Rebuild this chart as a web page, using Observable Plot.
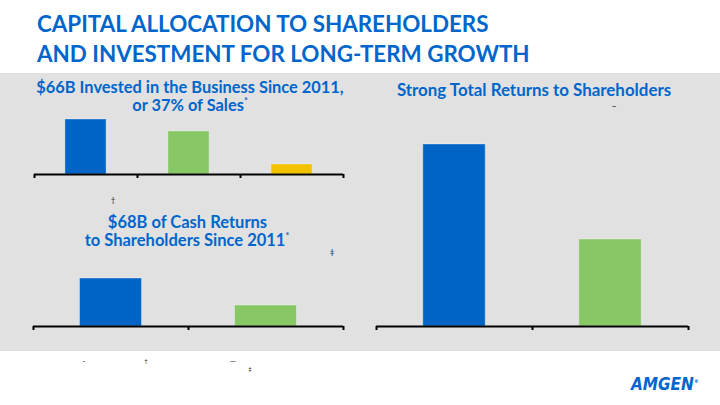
<!DOCTYPE html>
<html><head><meta charset="utf-8">
<script src="https://cdn.jsdelivr.net/npm/d3@7"></script>
<script src="https://cdn.jsdelivr.net/npm/@observablehq/plot@0.6"></script>
<style>
html,body{margin:0;padding:0;}
body{width:720px;height:405px;background:#fff;overflow:hidden;position:relative;font-family:Lato,"Open Sans",sans-serif;}
.abs{position:absolute;}
#panel{left:0;top:73px;width:720px;height:278px;background:#e1e1e1;}
#overlay{left:0;top:0;}
svg{overflow:visible;}
</style></head>
<body>
<div id="panel" class="abs"></div>
<div id="c1" class="abs" style="left:0;top:100px;"></div>
<div id="c2" class="abs" style="left:0;top:260px;"></div>
<div id="c3" class="abs" style="left:360px;top:130px;"></div>
<svg id="overlay" class="abs" width="720" height="405"></svg>
<script>
// ---- data ----
const investCategories = ["R&D", "Business Development", "Capital Expenditures"];
const investValues = [33.6, 26.3, 6.1];          // $B (total $66B)
const investColors = ["#0063c6", "#88c766", "#f2c200"];

const cashCategories = ["Share Repurchases", "Dividends"];
const cashValues = [47.3, 20.7];                  // $B, estimated (total $68B)
const cashColors = ["#0063c6", "#88c766"];

const tsrCategories = ["Amgen", "S&P 500"];
const tsrValues = [182, 87];                      // relative heights
const tsrColors = ["#0063c6", "#88c766"];

function barChart(cats, vals, colors, o) {
  const n = cats.length;
  const data = cats.map((c, i) => ({cat: c, i, v: vals[i]}));
  return Plot.plot({
    width: o.width, height: o.height,
    marginLeft: o.ml, marginRight: o.mr, marginTop: o.mt, marginBottom: o.mb,
    x: {domain: [0, n]},
    y: {domain: [0, o.ymax], axis: null},
    color: {domain: cats, range: colors},
    style: {background: "transparent", overflow: "visible"},
    marks: [
      Plot.rectY(data, {x1: d => d.i + 0.3, x2: d => d.i + 0.7, y1: 0, y2: "v", fill: "cat",
        stroke: "#ffffff", strokeOpacity: 0.35, strokeWidth: 1}),
      Plot.ruleY([0], {x1: 0, x2: n, stroke: "#000", strokeWidth: 2}),
      Plot.axisX({ticks: d3.range(n + 1), tickFormat: () => "", tickSize: 4, stroke: "#000", strokeWidth: 2})
    ]
  });
}

document.getElementById("c1").append(barChart(investCategories, investValues, investColors,
  {width: 360, height: 84, ml: 34, mr: 17, mt: 19, mb: 10, ymax: investValues[0]}));
document.getElementById("c2").append(barChart(cashCategories, cashValues, cashColors,
  {width: 360, height: 76, ml: 33, mr: 17, mt: 18, mb: 10, ymax: cashValues[0]}));
document.getElementById("c3").append(barChart(tsrCategories, tsrValues, tsrColors,
  {width: 360, height: 206, ml: 16, mr: 32, mt: 14, mb: 10, ymax: tsrValues[0]}));

// ---- text overlay ----
const blue = "#0066cc";
const svg = d3.select("#overlay");
function txt(x, y, s, size, opts = {}) {
  const t = svg.append("text").attr("x", x).attr("y", y)
    .attr("font-size", size).attr("font-weight", opts.weight || 700)
    .attr("fill", opts.fill || blue).attr("text-anchor", opts.anchor || "start")
    .attr("font-family", opts.family || "Lato, 'Open Sans', sans-serif");
  if (opts.style) t.attr("font-style", opts.style);
  t.append("tspan").text(s);
  if (opts.sup) t.append("tspan").attr("font-size", size * (opts.supScale || 0.55)).attr("dy", -size * 0.4).text(opts.sup);
  return t;
}
txt(37, 31.7, "CAPITAL ALLOCATION TO SHAREHOLDERS", 22.4);
txt(37, 62.3, "AND INVESTMENT FOR LONG-TERM GROWTH", 22.4);

txt(190, 93.3, "$66B Invested in the Business Since 2011,", 16.4, {anchor: "middle"});
txt(190, 111, "or 37% of Sales", 16.4, {anchor: "middle", sup: "*"});

txt(187.5, 227.7, "$68B of Cash Returns", 16.5, {anchor: "middle"});
txt(187, 245.7, "to Shareholders Since 2011", 16.5, {anchor: "middle", sup: "*"});

txt(534, 95.7, "Strong Total Returns to Shareholders", 16.9, {anchor: "middle"});

const mark = {fill: "#222", weight: 400, anchor: "middle"};
txt(614, 109, "–", 9, mark);
txt(113, 203, "†", 8, mark);
txt(332, 255, "‡", 8, mark);
txt(84, 364, "-", 8, mark);
txt(146, 363, "†", 6, mark);
txt(233, 364, "—", 8, mark);
txt(250, 371, "‡", 6, mark);

txt(631, 390, "AMGEN", 17, {family: "'DejaVu Sans Condensed', 'DejaVu Sans', sans-serif", style: "italic", sup: "®", supScale: 0.3});
</script>
</body></html>
